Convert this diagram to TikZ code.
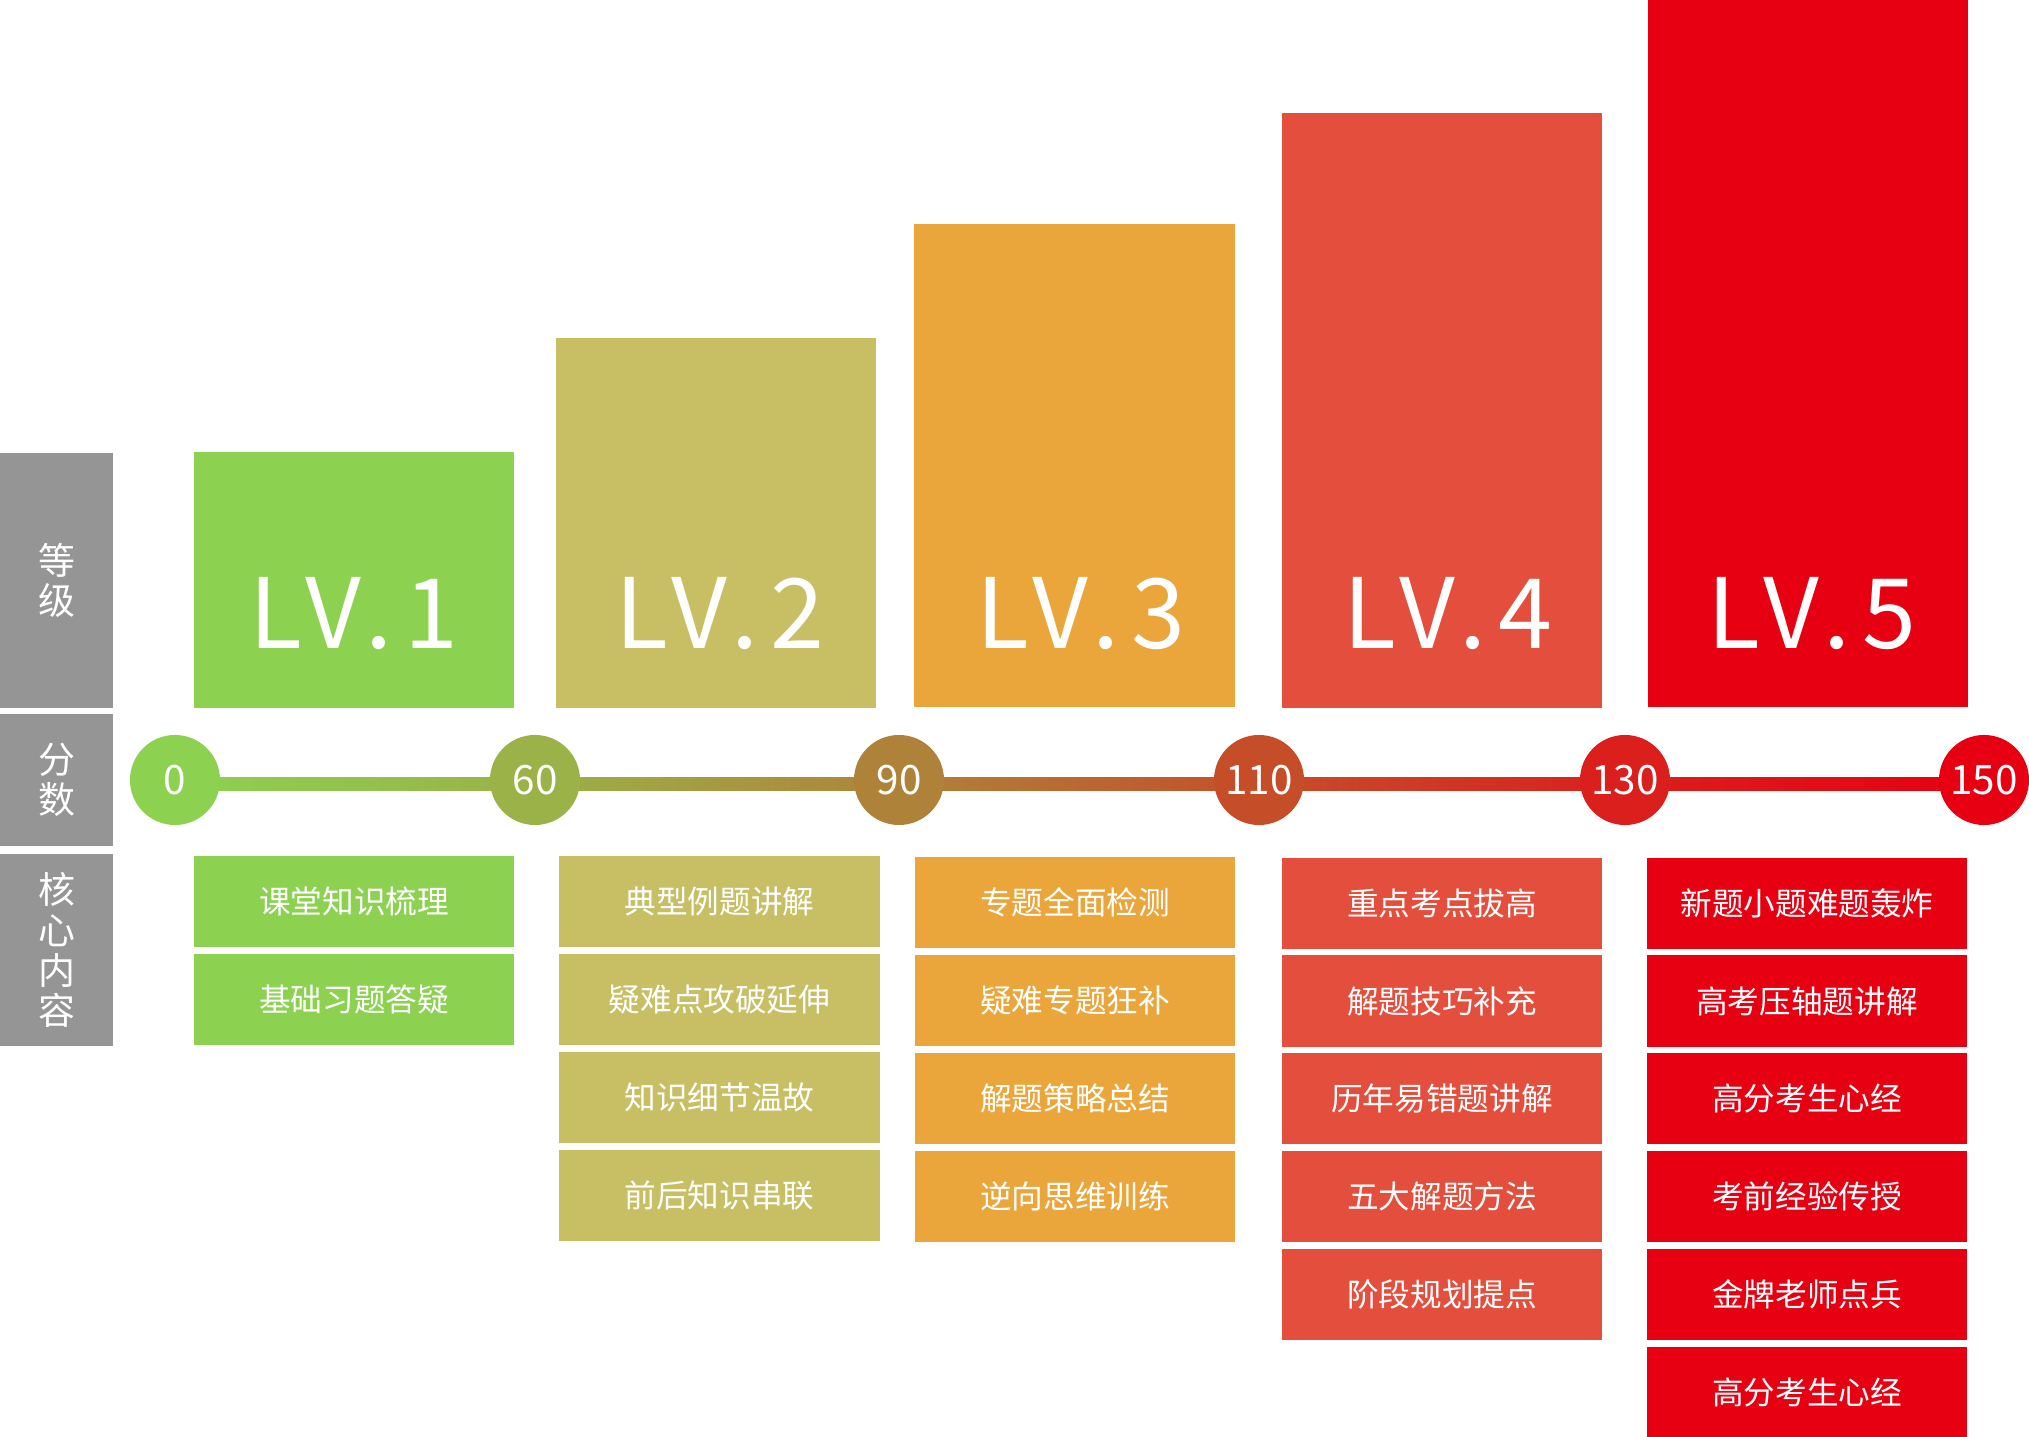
\documentclass[tikz,border=0pt]{standalone}
\usepackage{fontspec}
\setmainfont{Noto Sans CJK SC}
\usetikzlibrary{backgrounds}

\definecolor{gradegray}{HTML}{959595}
\definecolor{lvone}{HTML}{8CD150}
\definecolor{lvtwo}{HTML}{C8BF65}
\definecolor{lvthree}{HTML}{EAA63A}
\definecolor{lvfour}{HTML}{E34E3D}
\definecolor{lvfive}{HTML}{E60012}
\definecolor{ptsixty}{HTML}{9AB247}
\definecolor{ptninety}{HTML}{AF823A}
\definecolor{ptoneten}{HTML}{C54E29}
\definecolor{ptonethirty}{HTML}{DA1F1D}

\tikzset{
  gradebox/.style={fill=gradegray, text=white, inner sep=0pt, minimum width=1.13cm,
    align=center, font=\fontsize{10.5}{11.4}\selectfont},
  lvbox/.style={fill=#1, inner sep=0pt, minimum width=3.2cm, anchor=south},
  lvlabel/.style={text=white, anchor=base, inner sep=0pt,
    font=\fontsize{27.6}{30}\selectfont\addfontfeature{LetterSpace=12}},
  score/.style={circle, fill=#1, text=white, inner sep=0pt, minimum size=0.9cm,
    font=\fontsize{11.5}{12}\selectfont},
  topic/.style={fill=#1, text=white, inner sep=0pt, minimum width=3.2cm,
    minimum height=0.91cm, anchor=north, font=\fontsize{9}{10}\selectfont},
}

\begin{document}
\begin{tikzpicture}[x=0.01cm, y=-0.01cm]
  \useasboundingbox (0,0) rectangle (2029,1437);

  % left column
  \node[gradebox, minimum height=2.55cm] (grade) at (56.5,580.5) {等\\级};
  \node[gradebox, minimum height=1.32cm] (points) at (56.5,780) {分\\数};
  \node[gradebox, minimum height=1.92cm] (core) at (56.5,950) {核\\心\\内\\容};

  % level bars
  \node[lvbox=lvone, minimum height=2.56cm] (lv1) at (354,709) {};
  \node[lvbox=lvtwo, minimum height=3.70cm] (lv2) at (716,709) {};
  \node[lvbox=lvthree, minimum height=4.83cm] (lv3) at (1074.5,708) {};
  \node[lvbox=lvfour, minimum height=5.95cm] (lv4) at (1442,709) {};
  \node[lvbox=lvfive, minimum height=7.08cm] (lv5) at (1808,708) {};

  \node[lvlabel] (lvtext1) at (354,649) {LV.1};
  \node[lvlabel] (lvtext2) at (720,649) {LV.2};
  \node[lvlabel] (lvtext3) at (1080.5,649) {LV.3};
  \node[lvlabel] (lvtext4) at (1448,649) {LV.4};
  \node[lvlabel] (lvtext5) at (1812,649) {LV.5};

  % score line
  \node[score=lvone] (s0) at (175,780) {0};
  \node[score=ptsixty] (s60) at (535,780) {60};
  \node[score=ptninety] (s90) at (899,780) {90};
  \node[score=ptoneten] (s110) at (1259,780) {110};
  \node[score=ptonethirty] (s130) at (1625,780) {130};
  \node[score=lvfive] (s150) at (1984,780) {150};

  \begin{scope}[on background layer]
    \shade[left color=lvone, right color=ptsixty] ([yshift=0.02cm]s0.center) rectangle ([yshift=-0.1cm]s60.center);
    \shade[left color=ptsixty, right color=ptninety] ([yshift=0.02cm]s60.center) rectangle ([yshift=-0.1cm]s90.center);
    \shade[left color=ptninety, right color=ptoneten] ([yshift=0.02cm]s90.center) rectangle ([yshift=-0.1cm]s110.center);
    \shade[left color=ptoneten, right color=ptonethirty] ([yshift=0.02cm]s110.center) rectangle ([yshift=-0.1cm]s130.center);
    \shade[left color=ptonethirty, right color=lvfive] ([yshift=0.02cm]s130.center) rectangle ([yshift=-0.1cm]s150.center);
  \end{scope}

  % core topics
  \node[topic=lvone] (a1) at (354,855) {课堂知识梳理};
  \node[topic=lvone] (a2) at (354,953.2) {基础习题答疑};

  \node[topic=lvtwo] (b1) at (719.5,855) {典型例题讲解};
  \node[topic=lvtwo] (b2) at (719.5,953.2) {疑难点攻破延伸};
  \node[topic=lvtwo] (b3) at (719.5,1051.4) {知识细节温故};
  \node[topic=lvtwo] (b4) at (719.5,1149.6) {前后知识串联};

  \node[topic=lvthree] (c1) at (1075,856) {专题全面检测};
  \node[topic=lvthree] (c2) at (1075,954.2) {疑难专题狂补};
  \node[topic=lvthree] (c3) at (1075,1052.4) {解题策略总结};
  \node[topic=lvthree] (c4) at (1075,1150.6) {逆向思维训练};

  \node[topic=lvfour] (d1) at (1442,857) {重点考点拔高};
  \node[topic=lvfour] (d2) at (1442,954.8) {解题技巧补充};
  \node[topic=lvfour] (d3) at (1442,1052.6) {历年易错题讲解};
  \node[topic=lvfour] (d4) at (1442,1150.4) {五大解题方法};
  \node[topic=lvfour] (d5) at (1442,1248.2) {阶段规划提点};

  \node[topic=lvfive] (e1) at (1807,857) {新题小题难题轰炸};
  \node[topic=lvfive] (e2) at (1807,954.8) {高考压轴题讲解};
  \node[topic=lvfive] (e3) at (1807,1052.6) {高分考生心经};
  \node[topic=lvfive] (e4) at (1807,1150.4) {考前经验传授};
  \node[topic=lvfive] (e5) at (1807,1248.2) {金牌老师点兵};
  \node[topic=lvfive] (e6) at (1807,1346) {高分考生心经};
\end{tikzpicture}
\end{document}
